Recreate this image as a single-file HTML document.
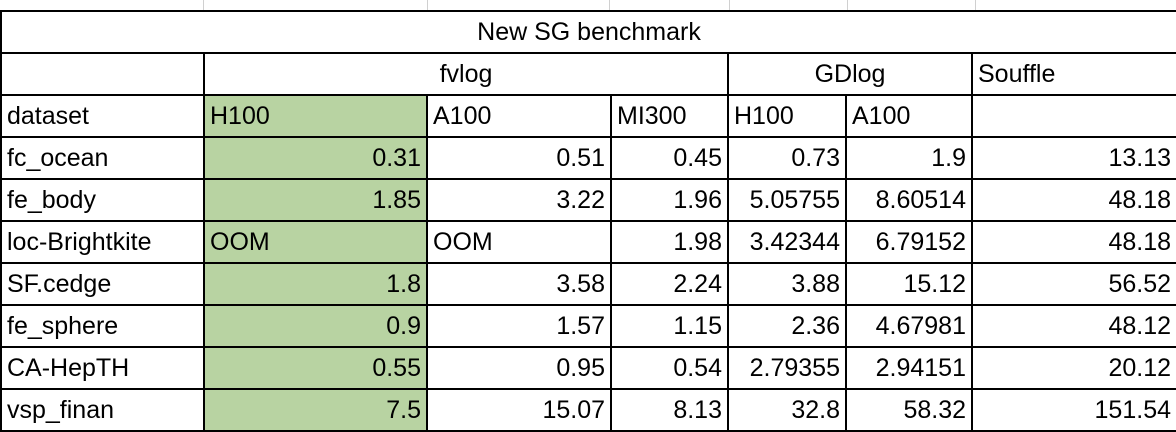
<!DOCTYPE html>
<html><head><meta charset="utf-8"><style>
body{margin:0;width:1176px;height:430px;overflow:hidden;background:#fff;font-family:"Liberation Sans",Arial,sans-serif;font-size:25px;color:#000}
.g{position:absolute;top:0;height:10px;width:1px;background:#d0d0d0}
table{position:absolute;left:0;top:10px;border-collapse:collapse;table-layout:fixed;width:1176px}
td{border:2px solid #000;height:40px;padding:0 5px;white-space:nowrap;overflow:hidden;line-height:40px;box-sizing:border-box}
tr{height:42px}
td.n{text-align:right}
td.c{text-align:center}
td.gr{background:#b8d3a2}
</style></head><body>
<div class="g" style="left:203px"></div>
<div class="g" style="left:427px"></div>
<div class="g" style="left:609px"></div>
<div class="g" style="left:729px"></div>
<div class="g" style="left:847px"></div>
<div class="g" style="left:975px"></div>
<table>
<colgroup><col style="width:203px"><col style="width:223px"><col style="width:184px"><col style="width:117px"><col style="width:118px"><col style="width:126px"><col style="width:205px"></colgroup>
<tr><td class="c" colspan="7">New SG benchmark</td></tr>
<tr><td></td><td class="c" colspan="3">fvlog</td><td class="c" colspan="2">GDlog</td><td>Souffle</td></tr>
<tr><td>dataset</td><td class="gr">H100</td><td>A100</td><td>MI300</td><td>H100</td><td>A100</td><td></td></tr>
<tr><td>fc_ocean</td><td class="n gr">0.31</td><td class="n">0.51</td><td class="n">0.45</td><td class="n">0.73</td><td class="n">1.9</td><td class="n">13.13</td></tr>
<tr><td>fe_body</td><td class="n gr">1.85</td><td class="n">3.22</td><td class="n">1.96</td><td class="n">5.05755</td><td class="n">8.60514</td><td class="n">48.18</td></tr>
<tr><td>loc-Brightkite</td><td class="gr">OOM</td><td>OOM</td><td class="n">1.98</td><td class="n">3.42344</td><td class="n">6.79152</td><td class="n">48.18</td></tr>
<tr><td>SF.cedge</td><td class="n gr">1.8</td><td class="n">3.58</td><td class="n">2.24</td><td class="n">3.88</td><td class="n">15.12</td><td class="n">56.52</td></tr>
<tr><td>fe_sphere</td><td class="n gr">0.9</td><td class="n">1.57</td><td class="n">1.15</td><td class="n">2.36</td><td class="n">4.67981</td><td class="n">48.12</td></tr>
<tr><td>CA-HepTH</td><td class="n gr">0.55</td><td class="n">0.95</td><td class="n">0.54</td><td class="n">2.79355</td><td class="n">2.94151</td><td class="n">20.12</td></tr>
<tr><td>vsp_finan</td><td class="n gr">7.5</td><td class="n">15.07</td><td class="n">8.13</td><td class="n">32.8</td><td class="n">58.32</td><td class="n">151.54</td></tr>
</table>
</body></html>
